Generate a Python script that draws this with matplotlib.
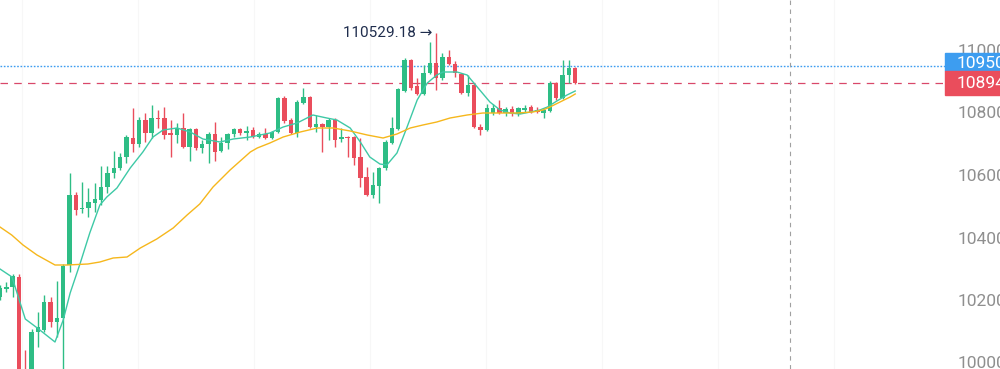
import matplotlib
matplotlib.use("Agg")
import matplotlib.pyplot as plt
from matplotlib.transforms import blended_transform_factory
from matplotlib.patches import Rectangle

plt.rcParams['font.family'] = ['Roboto', 'DejaVu Sans']

# OHLC per candle
opens = [102096, 102368, 102416, 102736, 99700, 99600, 100976, 101040, 101936, 101296,
         101424, 103120, 105360, 104912, 104944, 105104, 105200, 105616, 106064, 106224,
         106576, 107184, 106992, 107760, 107344, 107824, 107824, 107344, 107280, 107504,
         106896, 107472, 106864, 106992, 107312, 106768, 107024, 107312, 107472, 107344,
         107440, 107216, 107312, 107184, 107376, 108464, 107760, 107344, 108304, 108496,
         107536, 107632, 107536, 107760, 107152, 107216, 107216, 106576, 105936, 105360,
         105648, 106224, 107024, 107472, 108688, 109680, 108848, 108592, 109264, 109584,
         109104, 109776, 109552, 109232, 108624, 108880, 107536, 107440, 107984, 108144,
         107984, 108112, 107952, 108080, 108176, 108080, 107984, 108048, 108944, 108464,
         109200, 109424]
closes = [102384, 102416, 102768, 99440, 99500, 100976, 101136, 101936, 101296, 101424,
          103088, 105360, 104880, 104944, 105136, 105232, 105616, 106064, 106224, 106576,
          107216, 106992, 107760, 107344, 107824, 107792, 107280, 107280, 107504, 106896,
          107472, 106864, 106992, 107312, 106736, 107024, 107312, 107472, 107344, 107408,
          107216, 107312, 107184, 107376, 108464, 107728, 107344, 108336, 108496, 107536,
          107632, 107536, 107760, 107120, 107216, 107184, 106544, 105904, 105360, 105680,
          106224, 107056, 107504, 108752, 109680, 108784, 108592, 109264, 109584, 109104,
          109776, 109552, 109264, 108624, 108880, 107536, 107440, 108144, 108144, 107984,
          108112, 107984, 108144, 108144, 108016, 108016, 108080, 108944, 108464, 109200,
          109424, 108944]
highs = [102480, 102576, 102832, 102832, 100400, 101072, 101616, 102160, 102096, 102608,
         103152, 106064, 105456, 105776, 105584, 105744, 106288, 106288, 106768, 106704,
         107280, 108144, 107856, 107984, 108240, 108080, 108176, 107760, 107664, 107984,
         107504, 107504, 107120, 107376, 107696, 107216, 107344, 107504, 107504, 107568,
         107536, 107376, 107504, 107408, 108496, 108528, 107824, 108400, 108784, 108528,
         107920, 107664, 107824, 107824, 107504, 107248, 107248, 107184, 106256, 106096,
         106256, 107120, 107856, 108784, 109744, 109712, 109104, 109520, 110256, 110529.18,
         109904, 110000, 109648, 109264, 109200, 108944, 107632, 108272, 108272, 108400,
         108176, 108208, 108176, 108240, 108240, 108176, 108144, 109008, 108976, 109680,
         109680, 109456]
lows = [102000, 102256, 102096, 99280, 99300, 99400, 100496, 100976, 101136, 100816,
        99696, 102896, 104720, 104784, 104656, 104816, 105040, 105424, 105904, 106160,
        106384, 106736, 106896, 107056, 107184, 107504, 107152, 106576, 107024, 106864,
        106448, 106800, 106704, 106384, 106448, 106736, 106832, 107216, 107280, 107120,
        107184, 107184, 107168, 107152, 107344, 107664, 107312, 107216, 108272, 107504,
        107376, 106736, 107120, 106896, 107056, 106576, 106320, 105616, 105328, 105264,
        105104, 106160, 106992, 107440, 108656, 108720, 108560, 108560, 109232, 108720,
        109040, 109520, 109136, 108592, 108528, 107504, 107280, 107408, 107920, 107952,
        107888, 107888, 107888, 108016, 107984, 107984, 107824, 108016, 108400, 108432,
        108944, 108912]

# moving averages read at sampled candle positions
ma_fast_x = [0, 1.9, 2.7, 4.0, 5.9, 8.7, 10.0, 11.1, 12.7, 14.2, 15.8, 16.9, 18.5, 20.6,
             22.6, 24.2, 25.8, 28.0, 30.1, 32.1, 34.8, 36.9, 39.6, 42.7, 44.8, 47.0, 49.5,
             51.7, 53.3, 55.4, 57.0, 58.5, 60.1, 61.2, 62.8, 64.4, 66.0, 67.6, 69.1, 70.1,
             72.3, 73.9, 75.5, 77.5, 79.1, 80.7, 82.3, 83.9, 85.4, 86.6, 88.1, 89.7, 91.0]
ma_fast_y = [102992, 102736, 102224, 101392, 101104, 100656, 101360, 102224, 103184, 104144,
             105040, 105296, 105584, 106224, 106736, 107216, 107440, 107504, 107376, 107152,
             107056, 107152, 107216, 107344, 107536, 107664, 107920, 107824, 107760, 107504,
             107056, 106576, 106352, 106320, 106704, 107536, 108400, 108944, 109200, 109296,
             109296, 109200, 108816, 108336, 108080, 107984, 107952, 108016, 108080, 108176,
             108368, 108560, 108688]
ma_slow_x = [0, 1.85, 3.64, 5.85, 8.7, 10.6, 13.9, 15.8, 17.9, 20.1, 22.2, 24.8, 27.4, 29.6,
             31.6, 33.7, 36.4, 39.6, 40.7, 42.7, 44.8, 47.5, 50.2, 52.7, 55.4, 58.1, 60.6,
             62.8, 64.9, 66.9, 69.1, 71.2, 73.9, 76.4, 79.1, 81.8, 84.3, 85.9, 87.0, 88.6,
             90.2, 91.0]
ma_slow_y = [104336, 104080, 103760, 103440, 103120, 103120, 103152, 103216, 103344, 103376,
             103664, 103952, 104304, 104720, 105072, 105616, 106160, 106736, 106864, 107024,
             107216, 107376, 107504, 107504, 107408, 107280, 107184, 107312, 107504, 107600,
             107696, 107824, 107920, 107984, 107984, 107984, 108016, 108080, 108176, 108336,
             108496, 108592]

yticks = [100000, 102000, 104000, 106000, 108000, 110000]
high_label = "110529.18"
blue_price = 109504
last_price = closes[-1]

UP = "#2ebd85"
DOWN = "#ea4d5c"

fig = plt.figure(figsize=(10, 3.69), dpi=100)
ax = fig.add_axes([0, 0, 0.945, 1])
ax.set_xlim(0, 149.5)
ax.set_ylim(99792, 111600)

# very faint vertical grid
for gx in [3.5, 21.8, 40.2, 58.5, 76.9, 95.3, 113.6, 132.0]:
    ax.axvline(gx, color="#f7f7f7", lw=0.8, zorder=0)

for i, (o, h, l, c) in enumerate(zip(opens, highs, lows, closes)):
    col = UP if c >= o else DOWN
    ax.vlines(i, l, h, color=col, lw=1.0, zorder=2)
    body = max(abs(c - o), 40)
    ax.bar(i, body, bottom=min(o, c), width=0.7, color=col, lw=0, zorder=3)

ax.plot(ma_fast_x, ma_fast_y, color="#3ec9a6", lw=1.0, zorder=4)
ax.plot(ma_slow_x, ma_slow_y, color="#f6b71c", lw=1.0, zorder=4)

ax.axhline(blue_price, color="#3d9df0", lw=1.0, ls=(0, (1.2, 1.2)), zorder=1)
ax.axhline(last_price, color="#d9486a", lw=0.9, ls=(0, (6, 5)), zorder=1)
ax.axvline(125.0, color="#a0a0a0", lw=0.8, ls=(0, (4, 4)), zorder=1)

hi_idx = highs.index(max(highs))
ax.annotate(high_label + " \u2192", xy=(hi_idx - 0.6, max(highs)), ha="right", va="center",
            fontsize=11, color="#1f2d4d")

for s in ax.spines.values():
    s.set_visible(False)
ax.set_xticks([])
ax.yaxis.tick_right()
ax.set_yticks(yticks)
ax.set_yticklabels([str(v) for v in yticks])
ax.tick_params(axis="y", length=0, pad=9, labelsize=12.5, labelcolor="#8f8f8f")

# last-price tags on the right axis
tr = blended_transform_factory(ax.transAxes, ax.transData)
px = 32.0  # price per pixel
red_lo, red_hi = last_price - 12 * px, last_price + 12 * px
blue_lo, blue_hi = red_hi, red_hi + 18 * px
ax.add_patch(Rectangle((1.0, blue_lo), 0.1, blue_hi - blue_lo, transform=tr,
                       color="#3d9df0", clip_on=False, zorder=6))
ax.add_patch(Rectangle((1.0, red_lo), 0.1, red_hi - red_lo, transform=tr,
                       color="#ea4d5c", clip_on=False, zorder=6))
ax.text(1.0127, (blue_lo + blue_hi) / 2 - 2 * px, str(blue_price), transform=tr, color="white",
        fontsize=12.5, va="center", ha="left", zorder=7, clip_on=False)
ax.text(1.0127, last_price, str(int(last_price)), transform=tr, color="white",
        fontsize=12.5, va="center", ha="left", zorder=7, clip_on=False)

fig.savefig("out.png", dpi=100)
